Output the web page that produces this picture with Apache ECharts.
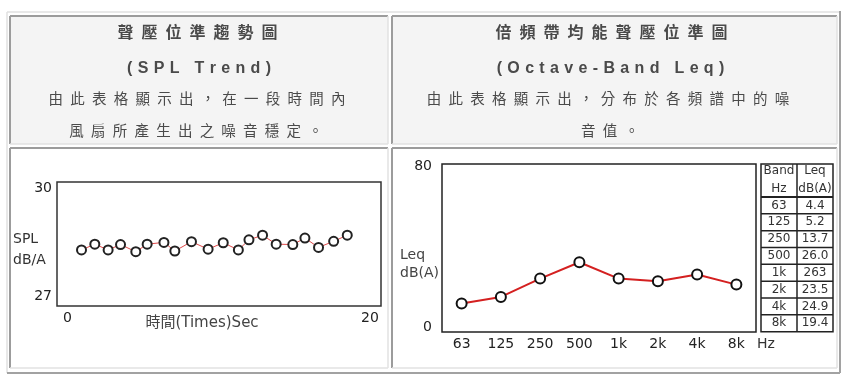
<!DOCTYPE html>
<html><head><meta charset="utf-8">
<script src="https://cdn.jsdelivr.net/npm/echarts@6/dist/echarts.min.js"></script>
<style>html,body{margin:0;padding:0;background:#fff}#c{width:863px;height:383px}</style>
</head><body><div id="c"></div>
<script>
// ---------- data ----------
const trendTimes = [0.93,1.81,2.69,3.51,4.52,5.27,6.38,7.1,8.2,9.3,10.3,11.3,12.0,12.9,13.8,14.9,15.7,16.6,17.6,18.5];
const trendSPL   = [28.28,28.44,28.28,28.43,28.23,28.44,28.49,28.25,28.51,28.30,28.48,28.28,28.56,28.69,28.44,28.43,28.61,28.35,28.52,28.69];
const trendYTicks = [27, 30];
const trendXTicks = [0, 20];
const bandLabels = ['63','125','250','500','1k','2k','4k','8k'];
const bandLeq    = [11.8,15.1,24.2,32.3,24.2,22.9,26.2,21.2];
const leqYTicks  = [0, 80];
const tableBand  = ['63','125','250','500','1k','2k','4k','8k'];
const tableLeq   = ['4.4','5.2','13.7','26.0','263','23.5','24.9','19.4'];
const leftTitle  = ['聲壓位準趨勢圖','(SPL Trend)','由此表格顯示出，在一段時間內','風扇所產生出之噪音穩定。'];
const rightTitle = ['倍頻帶均能聲壓位準圖','(Octave-Band Leq)','由此表格顯示出，分布於各頻譜中的噪','音值。'];

// ---------- layout helpers ----------
const CJK = '"Liberation Sans","Noto Sans CJK TC",sans-serif';
const CH = '"DejaVu Sans","Noto Sans CJK TC",sans-serif';
const EN = '\u2002', TPE = '\u2004';
function spread(s, sep){ return Array.from(s).join(sep); }
function txt(x, y, text, font, fill, align){
  return {type:'text', x:x, y:y, silent:true,
    style:{text:text, font:font, fill:fill, textAlign:align||'center', textVerticalAlign:'middle', align:align||'center', verticalAlign:'middle'}};
}
function line(x1,y1,x2,y2,color,w){
  return {type:'line', silent:true, shape:{x1:x1,y1:y1,x2:x2,y2:y2}, style:{stroke:color, lineWidth:w}};
}
function cell(x,y,w,h,bg){
  return [
    {type:'rect', silent:true, z:-10, shape:{x:x,y:y,width:w,height:h}, style:{fill:bg}},
    line(x,y,x+w,y,'#9c9c9c',2), line(x,y,x,y+h,'#9c9c9c',2),
    line(x,y+h,x+w,y+h,'#e2e2e2',1.5), line(x+w,y,x+w,y+h,'#e2e2e2',1.5)
  ];
}

const g = [];
// outer table frame
g.push(line(7,12,840,12,'#e0e0e0',1.5), line(7,12,7,373,'#e0e0e0',1.5));
g.push(line(840,11,840,373,'#a2a2a2',2), line(7,373,840,373,'#a2a2a2',2));
// cells
g.push(...cell(10,16,378,128,'#f4f4f4'));
g.push(...cell(392,16,445,128,'#f4f4f4'));
g.push(...cell(10,148,378,220,'#ffffff'));
g.push(...cell(392,148,445,220,'#ffffff'));

// header texts
const titleFont = 'bold 16px ' + CJK;
const bodyFont = '14.5px ' + CJK;
const tCol = '#4a4a4a';
g.push(txt(197.5, 34, spread(leftTitle[0], EN), titleFont, tCol));
g.push(txt(199, 68.5, spread(leftTitle[1], TPE), titleFont, tCol));
g.push(txt(197, 100, spread(leftTitle[2], EN), bodyFont, tCol));
g.push(txt(196, 132, spread(leftTitle[3], EN), bodyFont, tCol));
g.push(txt(611.5, 34, spread(rightTitle[0], EN), titleFont, tCol));
g.push(txt(610.5, 68.5, spread(rightTitle[1], TPE), titleFont, tCol));
g.push(txt(608, 100, spread(rightTitle[2], EN), bodyFont, tCol));
g.push(txt(610, 132, spread(rightTitle[3], EN), bodyFont, tCol));

// chart axis titles
g.push(txt(13, 239, 'SPL', '14px ' + CH, '#333', 'left'));
g.push(txt(13, 260, 'dB/A', '14px ' + CH, '#333', 'left'));
g.push(txt(202, 323, '時間(Times)Sec', '15px ' + CH, '#444'));
g.push(txt(400, 255, 'Leq', '14px ' + CH, '#444', 'left'));
g.push(txt(400, 273, 'dB(A)', '14px ' + CH, '#444', 'left'));
g.push(txt(757, 344, 'Hz', '14px ' + CH, '#333', 'left'));

// value table on the right
const tx0 = 761, tx1 = 797, tx2 = 833, ty0 = 164, tyH = 197, ty1 = 331.7;
const rowH = (ty1 - tyH) / tableBand.length;
const tc = '#222';
g.push({type:'rect', silent:true, shape:{x:tx0,y:ty0,width:tx2-tx0,height:ty1-ty0}, style:{fill:'none', stroke:tc, lineWidth:1.5}});
g.push(line(tx1, ty0, tx1, ty1, tc, 1.5));
g.push(line(tx0, tyH, tx2, tyH, tc, 2));
for (let i = 1; i < tableBand.length; i++) g.push(line(tx0, tyH + i*rowH, tx2, tyH + i*rowH, tc, 1.5));
const tFont = '12px ' + CH;
g.push(txt((tx0+tx1)/2, 171, 'Band', tFont, '#333'));
g.push(txt((tx0+tx1)/2, 189, 'Hz', tFont, '#333'));
g.push(txt((tx1+tx2)/2, 171, 'Leq', tFont, '#333'));
g.push(txt((tx1+tx2)/2, 189, 'dB(A)', tFont, '#333'));
tableBand.forEach((b, i) => {
  const cy = tyH + (i + 0.5) * rowH;
  g.push(txt((tx0+tx1)/2, cy, b, tFont, '#333'));
  g.push(txt((tx1+tx2)/2, cy, tableLeq[i], tFont, '#333'));
});

const lab = {fontFamily: CH, fontSize: 14, color: '#222'};
const chart = echarts.init(document.getElementById('c'));
chart.setOption({
  animation: false,
  backgroundColor: '#fff',
  grid: [
    {left: 57, top: 182, width: 324, height: 124, show: true, borderColor: '#333', borderWidth: 1.5, backgroundColor: 'transparent'},
    {left: 442, top: 164, width: 314, height: 168, show: true, borderColor: '#222', borderWidth: 1.5, backgroundColor: 'transparent'}
  ],
  xAxis: [
    {gridIndex: 0, type: 'value', min: -0.69, max: 20.73,
     axisLine: {show: false}, axisTick: {show: false}, splitLine: {show: false},
     axisLabel: Object.assign({customValues: trendXTicks, margin: 5}, lab)},
    {gridIndex: 1, type: 'category', data: bandLabels, boundaryGap: true,
     axisLine: {show: false}, axisTick: {show: false}, splitLine: {show: false},
     axisLabel: Object.assign({interval: 0, margin: 5}, lab)}
  ],
  yAxis: [
    {gridIndex: 0, type: 'value', min: 26.72, max: 30.17,
     axisLine: {show: false}, axisTick: {show: false}, splitLine: {show: false},
     axisLabel: Object.assign({customValues: trendYTicks, margin: 5}, lab)},
    {gridIndex: 1, type: 'value', min: -2.3, max: 81,
     axisLine: {show: false}, axisTick: {show: false}, splitLine: {show: false},
     axisLabel: Object.assign({customValues: leqYTicks, margin: 10}, lab)}
  ],
  series: [
    {type: 'line', xAxisIndex: 0, yAxisIndex: 0,
     data: trendTimes.map((t, i) => [t, trendSPL[i]]),
     symbol: 'emptyCircle', symbolSize: 9,
     lineStyle: {color: '#e04a4a', width: 1},
     itemStyle: {color: '#222', borderWidth: 1.5}},
    {type: 'line', xAxisIndex: 1, yAxisIndex: 1, data: bandLeq,
     symbol: 'emptyCircle', symbolSize: 10,
     lineStyle: {color: '#d42020', width: 2},
     itemStyle: {color: '#111', borderWidth: 2}}
  ],
  graphic: {elements: g}
});
</script></body></html>
